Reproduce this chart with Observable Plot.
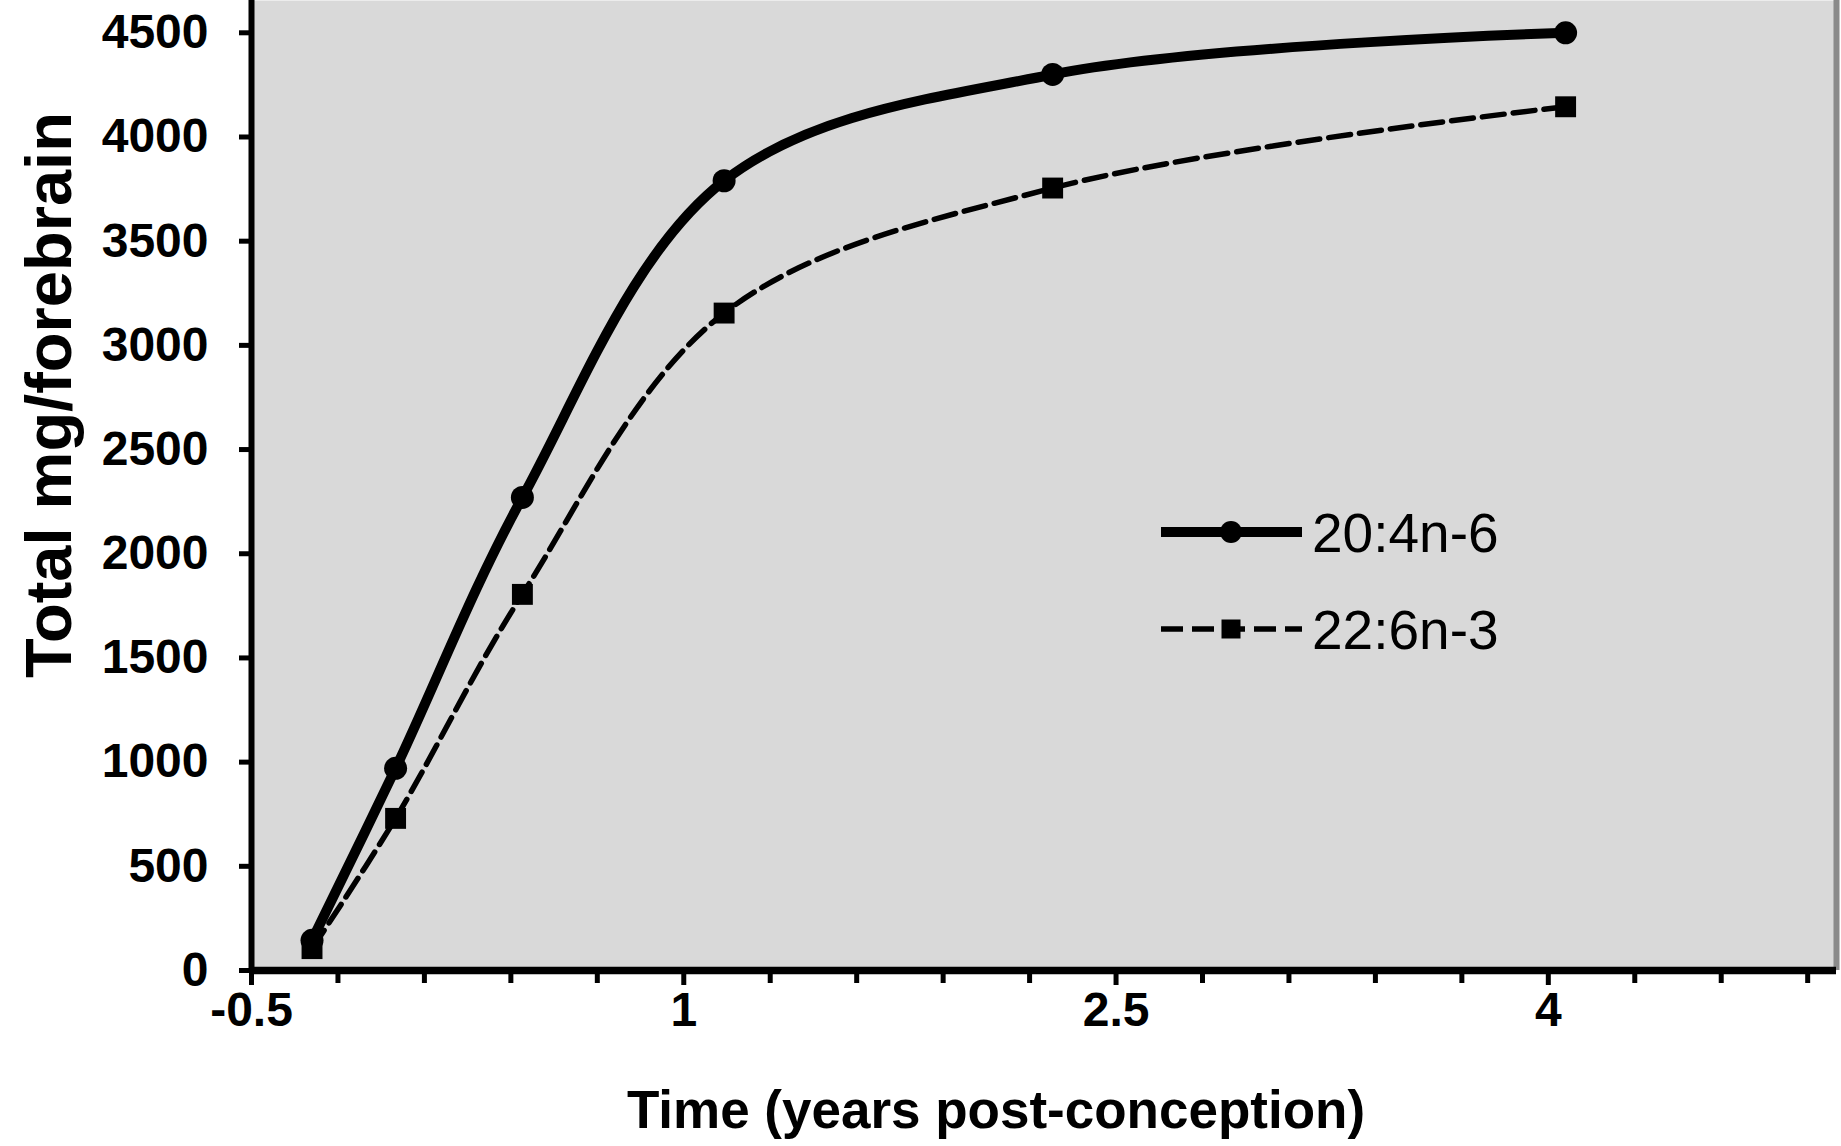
<!DOCTYPE html>
<html><head><meta charset="utf-8">
<script src="https://cdn.jsdelivr.net/npm/d3@7"></script>
<script src="https://cdn.jsdelivr.net/npm/@observablehq/plot@0.6"></script>
<style>
html,body{margin:0;padding:0;background:#fff;}
#chart svg{display:block;}
</style>
</head><body><div id="chart"></div>
<script>
// ---- data ----
const timeYears = [-0.29, 0, 0.44, 1.14, 2.28, 4.06];
const aaValues  = [145, 970, 2270, 3790, 4300, 4500];   // 20:4n-6
const dhaValues = [105, 730, 1805, 3155, 3755, 4145];   // 22:6n-3
const seriesNames = ["20:4n-6", "22:6n-3"];
const yTicks = [0, 500, 1000, 1500, 2000, 2500, 3000, 3500, 4000, 4500];
const xMajorTicks = [-0.5, 1, 2.5, 4];
const xMinorTicks = [-0.2, 0.1, 0.4, 0.7, 1.3, 1.6, 1.9, 2.2, 2.8, 3.1, 3.4, 3.7, 4.3, 4.6, 4.9];
const xTitle = "Time (years post-conception)";
const yTitle = "Total mg/forebrain";

const aa = timeYears.map((t, i) => ({t, v: aaValues[i], s: seriesNames[0]}));
const dha = timeYears.map((t, i) => ({t, v: dhaValues[i], s: seriesNames[1]}));

const FONT = "Liberation Sans, Arial, sans-serif";

function overlay(index, scales, values, dimensions) {
  const g = d3.create("svg:g").attr("font-family", FONT).attr("fill", "black");
  // axis titles
  g.append("text")
    .attr("transform", "translate(71,395) rotate(-90)")
    .attr("text-anchor", "middle").attr("font-size", 65).attr("font-weight", "bold")
    .text(yTitle);
  g.append("text")
    .attr("x", 996).attr("y", 1128)
    .attr("text-anchor", "middle").attr("font-size", 53).attr("font-weight", "bold")
    .text(xTitle);
  // legend
  const items = [
    {name: seriesNames[0], y: 532, sw: 10, dash: null, sym: d3.symbolCircle, size: Math.PI * 11 * 11},
    {name: seriesNames[1], y: 629, sw: 5.5, dash: "22,9", sym: d3.symbolSquare, size: 19 * 19}
  ];
  for (const it of items) {
    const l = g.append("line").attr("x1", 1161).attr("x2", 1302).attr("y1", it.y).attr("y2", it.y)
      .attr("stroke", "black").attr("stroke-width", it.sw);
    if (it.dash) l.attr("stroke-dasharray", it.dash);
    g.append("path").attr("transform", `translate(1231,${it.y})`)
      .attr("d", d3.symbol(it.sym, it.size)());
    g.append("text").attr("x", 1312).attr("y", it.y).attr("dy", "0.36em")
      .attr("text-anchor", "start")
      .attr("font-size", 55).text(it.name);
  }
  return g.node();
}

const chart = Plot.plot({
  width: 1841,
  height: 1146,
  marginLeft: 251,
  marginRight: 5,
  marginTop: 0,
  marginBottom: 176,
  style: {fontFamily: FONT, background: "white", color: "black"},
  x: {domain: [-0.5, 5], axis: null},
  y: {domain: [0, 4655], axis: null},
  marks: [
    Plot.frame({fill: "#d9d9d9", stroke: null}),
    Plot.ruleX([5], {stroke: "#8a8a8a", strokeWidth: 6}),
    Plot.line(dha, {x: "t", y: "v", curve: "catmull-rom", stroke: "black", strokeWidth: 5.5, strokeDasharray: "22,9"}),
    Plot.line(aa, {x: "t", y: "v", curve: "catmull-rom", stroke: "black", strokeWidth: 10}),
    Plot.dot(aa, {x: "t", y: "v", r: 11.5, symbol: "circle", fill: "black"}),
    Plot.dot(dha, {x: "t", y: "v", r: 11.8, symbol: "square", fill: "black"}),
    Plot.axisY({anchor: "left", ticks: yTicks, tickSize: 12, tickPadding: 31, strokeWidth: 5,
      fontSize: 48, fontWeight: "bold", tickFormat: d => String(d), label: null}),
    Plot.axisX({anchor: "bottom", ticks: xMinorTicks, tickSize: 13, strokeWidth: 5, text: null, label: null}),
    Plot.axisX({anchor: "bottom", ticks: xMajorTicks, tickSize: 15, tickPadding: 6, strokeWidth: 5,
      fontSize: 48, fontWeight: "bold", tickFormat: d => String(d), label: null}),
    Plot.ruleX([-0.5], {strokeWidth: 6}),
    Plot.ruleY([0], {strokeWidth: 7.5}),
    overlay
  ]
});
document.getElementById("chart").appendChild(chart);
</script>
</body></html>
